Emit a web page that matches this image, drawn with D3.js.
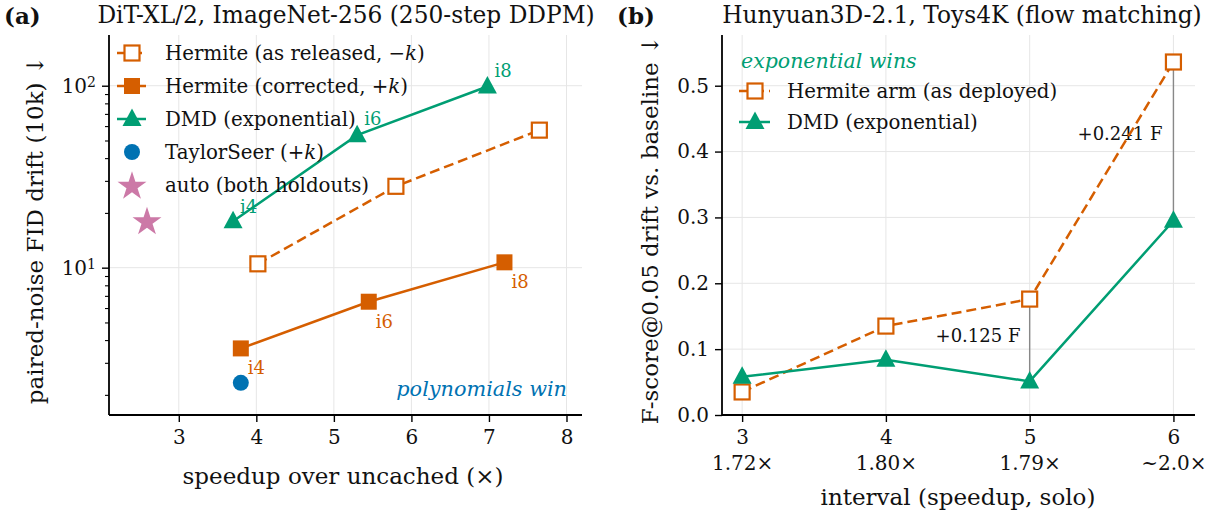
<!DOCTYPE html>
<html><head><meta charset="utf-8">
<script src="https://cdn.jsdelivr.net/npm/d3@7"></script>
<style>
body{margin:0;background:#fff;}
svg{display:block;font-family:"DejaVu Serif",serif;}
svg text{font-family:"DejaVu Serif",serif;}
</style></head>
<body><svg id="c" width="1215" height="516"></svg>
<script>
// ---------- data: panel (a) ----------
const hermReleasedX = [4.02, 5.8, 7.65];
const hermReleasedY = [10.5, 28, 57];
const hermCorrX = [3.8, 5.45, 7.2];
const hermCorrY = [3.6, 6.5, 10.7];
const dmdX = [3.7, 5.3, 6.98];
const dmdY = [18, 53.5, 99];
const intervalLabels = ["i4", "i6", "i8"];
const taylorX = [3.8];
const taylorY = [2.33];
const autoX = [2.59];
const autoY = [18.2];
const xTicksA = [3, 4, 5, 6, 7, 8];
// ---------- data: panel (b) ----------
const intervals = [3, 4, 5, 6];
const speedupLabels = ["1.72×", "1.80×", "1.79×", "~2.0×"];
const hermArm = [0.035, 0.135, 0.176, 0.536];
const dmdB = [0.058, 0.084, 0.051, 0.295];
const yTicksB = [0.0, 0.1, 0.2, 0.3, 0.4, 0.5];
const gapLabels = ["+0.125 F", "+0.241 F"];
const gapIdx = [2, 3];

const ORANGE = "#D55E00", GREEN = "#009E73", BLUE = "#0072B2", PINK = "#CC79A7";
const FS_TICK = 20, FS_LAB = 23, FS_LEG = 19.8, FS_TITLE = 23.3;
const svg = d3.select("#c");

function drawMarker(g, type, x, y, color){
  if(type==="sqOpen") g.append("rect").attr("x",x-7.5).attr("y",y-7.5).attr("width",15).attr("height",15).attr("fill","#fff").attr("stroke",color).attr("stroke-width",2.2);
  else if(type==="sq") g.append("rect").attr("x",x-8).attr("y",y-8).attr("width",16).attr("height",16).attr("fill",color);
  else if(type==="tri") g.append("path").attr("d","M0,-10.5L9.5,7L-9.5,7Z").attr("transform",`translate(${x},${y})`).attr("fill",color);
  else if(type==="circ") g.append("circle").attr("cx",x).attr("cy",y).attr("r",8).attr("fill",color);
  else if(type==="star") g.append("path").attr("d",d3.symbol(d3.symbolStar,260)()).attr("transform",`translate(${x},${y+1.5})`).attr("fill",color);
}

// ================= Panel (a) =================
const A = {l:109, r:582, t:35, b:415};
const xA = d3.scaleLinear().domain([2.1, 8.2]).range([A.l, A.r]);
const yA = d3.scaleLog().domain([1.55, 190]).range([A.b, A.t]);
const gA = svg.append("g");

gA.selectAll(".vg").data(xTicksA).join("line").attr("x1",d=>xA(d)).attr("x2",d=>xA(d)).attr("y1",A.t).attr("y2",A.b).attr("stroke","#e6e6e6").attr("stroke-width",1);
gA.selectAll(".hg").data([10,100]).join("line").attr("x1",A.l).attr("x2",A.r).attr("y1",d=>yA(d)).attr("y2",d=>yA(d)).attr("stroke","#e6e6e6").attr("stroke-width",1);

const axA = gA.append("g").attr("transform",`translate(0,${A.b})`).call(d3.axisBottom(xA).tickValues(xTicksA).tickSize(7).tickPadding(8).tickFormat(d3.format("d")));
axA.attr("font-size",FS_TICK).attr("font-family",null);
axA.select(".domain").attr("stroke","#000").attr("stroke-width",1.8).attr("d",`M${A.l},0H${A.r}`);
axA.selectAll(".tick line").attr("stroke-width",1.4);
axA.selectAll("text").attr("fill","#111");

const minor = [];
[1,10,100].forEach(dec=>{for(let k=2;k<=9;k++){const v=dec*k; if(v>=1.55&&v<=190) minor.push(v);}});
const ayA = gA.append("g").attr("transform",`translate(${A.l},0)`).call(d3.axisLeft(yA).tickValues([10,100]).tickSize(7).tickPadding(6).tickFormat(()=>""));
ayA.attr("font-size",FS_TICK).attr("font-family",null);
ayA.select(".domain").attr("stroke","#000").attr("stroke-width",1.8).attr("d",`M0,${A.t}V${A.b}`);
ayA.selectAll(".tick line").attr("stroke-width",1.4);
ayA.selectAll(".tick").each(function(d){
  const t = d3.select(this).select("text").attr("fill","#111").attr("dy","0.35em");
  t.text("");
  t.append("tspan").text("10");
  t.append("tspan").attr("dy","-0.45em").attr("font-size",14).text(d===10?"1":"2");
});
const amA = gA.append("g").attr("transform",`translate(${A.l},0)`).call(d3.axisLeft(yA).tickValues(minor).tickSize(4).tickFormat(()=>""));
amA.select(".domain").remove();
amA.selectAll(".tick line").attr("stroke-width",1.1);

const lineA = d3.line().x(d=>xA(d[0])).y(d=>yA(d[1]));
const relPts = hermReleasedX.map((x,i)=>[x,hermReleasedY[i]]);
const corPts = hermCorrX.map((x,i)=>[x,hermCorrY[i]]);
const dmdPts = dmdX.map((x,i)=>[x,dmdY[i]]);
gA.append("path").attr("d",lineA(relPts)).attr("fill","none").attr("stroke",ORANGE).attr("stroke-width",2.5).attr("stroke-dasharray","10,5");
gA.append("path").attr("d",lineA(corPts)).attr("fill","none").attr("stroke",ORANGE).attr("stroke-width",2.5);
gA.append("path").attr("d",lineA(dmdPts)).attr("fill","none").attr("stroke",GREEN).attr("stroke-width",2.5);
relPts.forEach(p=>drawMarker(gA,"sqOpen",xA(p[0]),yA(p[1]),ORANGE));
corPts.forEach(p=>drawMarker(gA,"sq",xA(p[0]),yA(p[1]),ORANGE));
dmdPts.forEach(p=>drawMarker(gA,"tri",xA(p[0]),yA(p[1]),GREEN));
taylorX.forEach((x,i)=>drawMarker(gA,"circ",xA(x),yA(taylorY[i]),BLUE));
autoX.forEach((x,i)=>drawMarker(gA,"star",xA(x),yA(autoY[i]),PINK));

dmdPts.forEach((p,i)=>gA.append("text").attr("x",xA(p[0])+7).attr("y",yA(p[1])-(i===0?8:10)).attr("font-size",18).attr("fill",GREEN).text(intervalLabels[i]));
corPts.forEach((p,i)=>gA.append("text").attr("x",xA(p[0])+7).attr("y",yA(p[1])+26).attr("font-size",18).attr("fill",ORANGE).text(intervalLabels[i]));

gA.append("text").attr("x",567).attr("y",396).attr("text-anchor","end").attr("font-size",20.8).attr("font-style","italic").attr("fill",BLUE).text("polynomials win");

const legA = [
  {t:"sqOpen",c:ORANGE,line:"dash",lab:["Hermite (as released, −",["k"],")"]},
  {t:"sq",c:ORANGE,line:"solid",lab:["Hermite (corrected, +",["k"],")"]},
  {t:"tri",c:GREEN,line:"solid",lab:["DMD (exponential)"]},
  {t:"circ",c:BLUE,line:null,lab:["TaylorSeer (+",["k"],")"]},
  {t:"star",c:PINK,line:null,lab:["auto (both holdouts)"]}
];
const legRowsA = [53,86,119,152,185];
legA.forEach((e,i)=>{
  const y = legRowsA[i];
  if(e.line) gA.append("line").attr("x1",117).attr("x2",146).attr("y1",y).attr("y2",y).attr("stroke",e.c).attr("stroke-width",2.5).attr("stroke-dasharray",e.line==="dash"?"10,5":null);
  drawMarker(gA,e.t,132,y,e.c);
  const tx = gA.append("text").attr("x",165).attr("y",y+6.5).attr("font-size",FS_LEG).attr("fill","#111");
  e.lab.forEach(s=>{ if(Array.isArray(s)) tx.append("tspan").attr("font-style","italic").text(s[0]); else tx.append("tspan").text(s); });
});

svg.append("text").attr("x",4).attr("y",24).attr("font-size",23).attr("font-weight","bold").attr("fill","#111").text("(a)");
svg.append("text").attr("x",346).attr("y",23).attr("text-anchor","middle").attr("font-size",FS_TITLE).attr("fill","#111").text("DiT-XL/2, ImageNet-256 (250-step DDPM)");
svg.append("text").attr("x",343).attr("y",484).attr("text-anchor","middle").attr("font-size",FS_LAB).attr("fill","#111").text("speedup over uncached (×)");
svg.append("text").attr("transform",`translate(43,${(A.t+A.b)/2+5}) rotate(-90)`).attr("text-anchor","middle").attr("font-size",FS_LAB).attr("fill","#111").text("paired-noise FID drift (10k)  ↓");

// ================= Panel (b) =================
const B = {l:722, r:1195, t:35, b:415};
const xB = d3.scaleLinear().domain([2.86, 6.15]).range([B.l, B.r]);
const yB = d3.scaleLinear().domain([0, 0.577]).range([B.b, B.t]);
const gB = svg.append("g");
gB.selectAll(".vg").data(intervals).join("line").attr("x1",d=>xB(d)).attr("x2",d=>xB(d)).attr("y1",B.t).attr("y2",B.b).attr("stroke","#e6e6e6");
gB.selectAll(".hg").data(yTicksB.slice(1)).join("line").attr("x1",B.l).attr("x2",B.r).attr("y1",d=>yB(d)).attr("y2",d=>yB(d)).attr("stroke","#e6e6e6");

const axB = gB.append("g").attr("transform",`translate(0,${B.b})`).call(d3.axisBottom(xB).tickValues(intervals).tickSize(7).tickPadding(8).tickFormat(d3.format("d")));
axB.attr("font-size",FS_TICK).attr("font-family",null);
axB.select(".domain").attr("stroke-width",1.8).attr("d",`M${B.l},0H${B.r}`);
axB.selectAll(".tick line").attr("stroke-width",1.4);
axB.selectAll(".tick text").attr("fill","#111").each(function(d,i){
  const t = d3.select(this); t.text("");
  t.append("tspan").attr("x",0).text(d);
  t.append("tspan").attr("x",0).attr("dy","1.3em").text(speedupLabels[i]);
});
const ayB = gB.append("g").attr("transform",`translate(${B.l},0)`).call(d3.axisLeft(yB).tickValues(yTicksB).tickSize(7).tickPadding(6).tickFormat(d3.format(".1f")));
ayB.attr("font-size",FS_TICK).attr("font-family",null);
ayB.select(".domain").attr("stroke-width",1.8).attr("d",`M0,${B.t}V${B.b}`);
ayB.selectAll(".tick line").attr("stroke-width",1.4);
ayB.selectAll("text").attr("fill","#111");

gapIdx.forEach((k)=>{
  gB.append("line").attr("x1",xB(intervals[k])).attr("x2",xB(intervals[k])).attr("y1",yB(hermArm[k])).attr("y2",yB(dmdB[k])).attr("stroke","#888").attr("stroke-width",1.4);
});
gB.append("text").attr("x",978).attr("y",yB(0.122)+7).attr("text-anchor","middle").attr("font-size",18).attr("fill","#111").text(gapLabels[0]);
gB.append("text").attr("x",1120).attr("y",yB(0.428)+7).attr("text-anchor","middle").attr("font-size",18).attr("fill","#111").text(gapLabels[1]);

const lineB = d3.line().x((d,i)=>xB(intervals[i])).y(d=>yB(d));
gB.append("path").attr("d",lineB(hermArm)).attr("fill","none").attr("stroke",ORANGE).attr("stroke-width",2.5).attr("stroke-dasharray","10,5");
gB.append("path").attr("d",lineB(dmdB)).attr("fill","none").attr("stroke",GREEN).attr("stroke-width",2.5);
hermArm.forEach((v,i)=>drawMarker(gB,"sqOpen",xB(intervals[i]),yB(v),ORANGE));
dmdB.forEach((v,i)=>drawMarker(gB,"tri",xB(intervals[i]),yB(v),GREEN));

gB.append("text").attr("x",741).attr("y",68).attr("font-size",20.5).attr("font-style","italic").attr("fill",GREEN).text("exponential wins");
const legB = [{t:"sqOpen",c:ORANGE,d:true,lab:"Hermite arm (as deployed)"},{t:"tri",c:GREEN,d:false,lab:"DMD (exponential)"}];
[91,122].forEach((y,i)=>{
  const e = legB[i];
  gB.append("line").attr("x1",739).attr("x2",770).attr("y1",y).attr("y2",y).attr("stroke",e.c).attr("stroke-width",2.5).attr("stroke-dasharray",e.d?"10,5":null);
  drawMarker(gB,e.t,755,y,e.c);
  gB.append("text").attr("x",787).attr("y",y+6.5).attr("font-size",FS_LEG).attr("fill","#111").text(e.lab);
});

svg.append("text").attr("x",617).attr("y",24).attr("font-size",23).attr("font-weight","bold").attr("fill","#111").text("(b)");
svg.append("text").attr("x",962).attr("y",23).attr("text-anchor","middle").attr("font-size",FS_TITLE).attr("fill","#111").text("Hunyuan3D-2.1, Toys4K (flow matching)");
svg.append("text").attr("x",958).attr("y",505).attr("text-anchor","middle").attr("font-size",FS_LAB).attr("fill","#111").text("interval (speedup, solo)");
svg.append("text").attr("transform",`translate(658,${(B.t+B.b)/2+5}) rotate(-90)`).attr("text-anchor","middle").attr("font-size",FS_LAB).attr("fill","#111").text("F-score@0.05 drift vs. baseline  ↓");
</script></body></html>
